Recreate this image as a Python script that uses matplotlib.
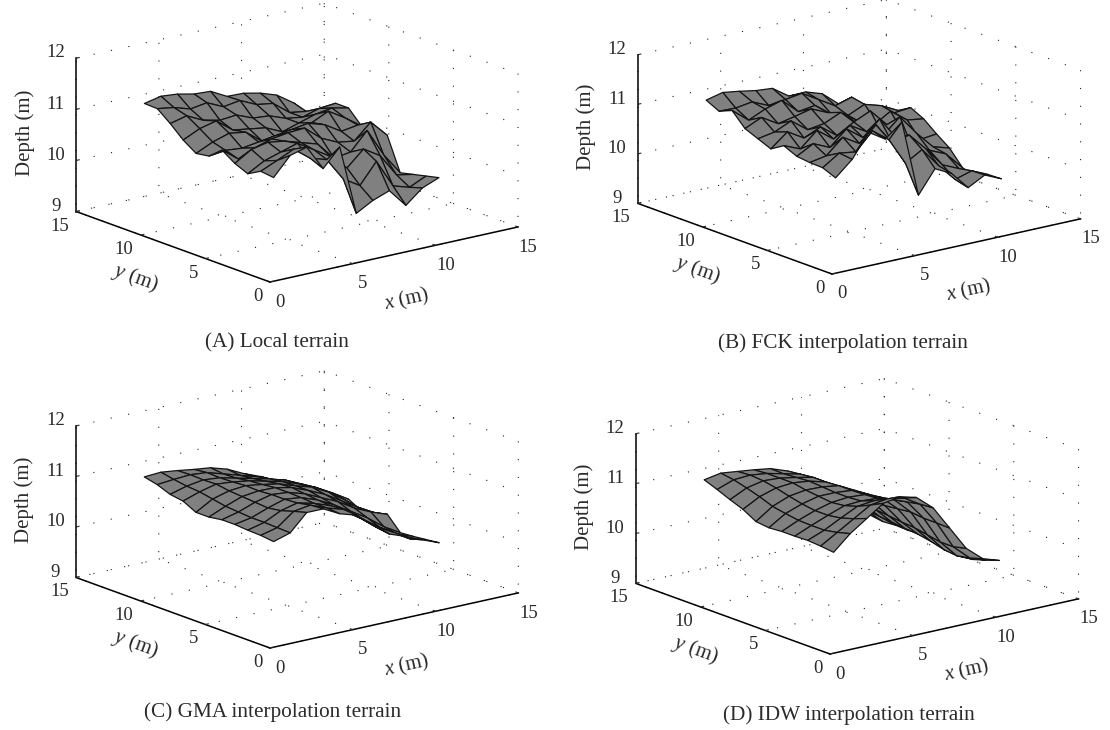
import matplotlib
matplotlib.use("Agg")
import matplotlib.pyplot as plt
import numpy as np
from mpl_toolkits.mplot3d import proj3d

plt.rcParams["font.family"] = ["Liberation Serif", "DejaVu Serif"]
plt.rcParams["mathtext.fontset"] = "custom"
plt.rcParams["mathtext.rm"] = "Liberation Serif"
plt.rcParams["mathtext.it"] = "Liberation Serif:italic"

W, H = 1110, 730
TEXT = "#2b2b2b"

grid_x = [1, 2, 3, 4, 5, 6, 7, 8, 9, 10, 11]
grid_y = [1, 2, 3, 4, 5, 6, 7, 8, 9, 10, 11]
ticks_xy = [0, 5, 10, 15]
ticks_z = [9, 10, 11, 12]

# rows run y = 1 .. 11, columns x = 1 .. 11
local_z = [
    [10.88, 11.24, 11.33, 10.84, 11.19, 9.82, 10.00, 10.12, 9.76, 10.03, 10.16],
    [10.91, 11.05, 11.20, 10.95, 10.85, 10.40, 10.20, 10.60, 10.05, 9.95, 10.10],
    [10.77, 10.95, 11.05, 11.15, 10.95, 10.75, 10.45, 10.75, 10.55, 10.10, 10.04],
    [10.88, 11.08, 11.15, 11.10, 11.00, 10.90, 10.55, 10.60, 10.95, 10.40, 9.98],
    [11.05, 10.80, 10.95, 11.05, 11.10, 11.12, 10.85, 10.70, 10.65, 10.95, 10.62],
    [10.84, 10.88, 10.85, 10.90, 10.95, 11.00, 11.05, 10.95, 10.75, 10.80, 10.58],
    [10.80, 10.95, 11.05, 11.00, 10.75, 10.70, 10.85, 10.90, 11.05, 10.85, 10.62],
    [10.97, 11.12, 11.20, 10.95, 10.90, 10.85, 10.70, 10.80, 10.90, 10.95, 10.88],
    [11.20, 11.28, 11.12, 11.05, 11.08, 10.95, 10.92, 10.80, 10.75, 10.85, 10.88],
    [11.40, 11.35, 11.25, 11.30, 11.15, 11.20, 11.05, 11.00, 10.75, 10.70, 10.60],
    [11.41, 11.48, 11.45, 11.38, 11.36, 11.19, 11.18, 11.11, 11.00, 10.78, 10.45],
]
fck_z = [
    [10.77, 11.07, 11.54, 11.33, 11.60, 10.05, 10.51, 10.34, 9.98, 10.16, 10.01],
    [10.88, 11.10, 11.05, 11.40, 11.15, 10.60, 10.80, 10.40, 10.05, 10.15, 10.00],
    [10.89, 10.95, 11.25, 11.05, 11.35, 10.90, 11.00, 10.65, 10.25, 10.10, 9.88],
    [10.92, 11.10, 10.95, 11.25, 11.00, 11.30, 10.85, 10.55, 10.45, 10.30, 9.95],
    [11.04, 10.90, 11.20, 10.95, 11.15, 10.95, 10.80, 11.10, 10.70, 10.35, 10.25],
    [10.88, 11.15, 10.95, 11.10, 10.85, 11.05, 11.20, 10.85, 10.60, 10.40, 10.44],
    [10.99, 11.05, 11.20, 10.95, 11.00, 11.15, 10.85, 10.75, 10.95, 10.70, 10.65],
    [11.10, 11.25, 11.05, 11.12, 11.20, 11.05, 10.95, 10.70, 10.60, 10.75, 10.78],
    [11.37, 11.10, 11.25, 11.35, 11.05, 11.10, 10.85, 10.75, 10.90, 10.80, 10.63],
    [11.26, 11.25, 11.30, 11.15, 11.20, 11.25, 11.05, 10.85, 10.95, 10.60, 10.54],
    [11.39, 11.47, 11.42, 11.36, 11.33, 11.10, 11.11, 11.00, 10.72, 10.62, 10.44],
]
gma_z = [
    [10.94, 11.04, 11.37, 11.37, 11.20, 11.10, 10.83, 10.58, 10.46, 10.32, 10.19],
    [10.97, 11.05, 11.30, 11.35, 11.22, 11.12, 10.88, 10.62, 10.45, 10.25, 10.16],
    [10.98, 11.06, 11.22, 11.30, 11.22, 11.10, 10.90, 10.68, 10.45, 10.25, 10.13],
    [11.00, 11.06, 11.18, 11.28, 11.24, 11.12, 10.95, 10.75, 10.55, 10.30, 10.11],
    [11.00, 11.08, 11.20, 11.28, 11.25, 11.15, 11.00, 10.85, 10.65, 10.50, 10.38],
    [10.96, 11.10, 11.22, 11.26, 11.25, 11.18, 11.05, 10.90, 10.70, 10.50, 10.32],
    [10.96, 11.15, 11.24, 11.27, 11.22, 11.16, 11.05, 10.95, 10.78, 10.55, 10.26],
    [11.09, 11.20, 11.28, 11.25, 11.20, 11.12, 11.04, 10.92, 10.78, 10.60, 10.40],
    [11.13, 11.22, 11.27, 11.24, 11.16, 11.08, 11.00, 10.90, 10.75, 10.55, 10.31],
    [11.23, 11.26, 11.28, 11.25, 11.15, 11.05, 10.95, 10.82, 10.68, 10.50, 10.30],
    [11.29, 11.31, 11.27, 11.22, 11.18, 11.08, 10.92, 10.79, 10.62, 10.46, 10.23],
]
idw_z = [
    [10.87, 11.17, 11.40, 11.63, 11.69, 11.60, 11.32, 10.84, 10.36, 10.08, 9.97],
    [10.90, 11.10, 11.30, 11.50, 11.55, 11.50, 11.30, 10.85, 10.30, 10.00, 9.88],
    [10.92, 11.05, 11.22, 11.38, 11.42, 11.38, 11.25, 10.85, 10.30, 9.95, 9.80],
    [10.91, 11.05, 11.18, 11.30, 11.32, 11.30, 11.20, 10.88, 10.35, 9.98, 9.78],
    [10.91, 11.06, 11.18, 11.27, 11.30, 11.28, 11.15, 10.85, 10.40, 10.05, 9.82],
    [10.89, 11.10, 11.22, 11.30, 11.30, 11.27, 11.12, 10.82, 10.42, 10.10, 9.89],
    [10.92, 11.15, 11.28, 11.33, 11.32, 11.27, 11.10, 10.80, 10.45, 10.12, 9.94],
    [11.07, 11.25, 11.35, 11.38, 11.34, 11.25, 11.05, 10.78, 10.48, 10.15, 9.91],
    [11.17, 11.33, 11.40, 11.38, 11.32, 11.25, 11.05, 10.80, 10.50, 10.18, 9.92],
    [11.28, 11.40, 11.42, 11.38, 11.30, 11.22, 11.05, 10.82, 10.55, 10.20, 9.90],
    [11.38, 11.44, 11.40, 11.36, 11.31, 11.19, 11.00, 10.80, 10.55, 10.25, 9.94],
]

captions = [
    "(A) Local terrain",
    "(B) FCK interpolation terrain",
    "(C) GMA interpolation terrain",
    "(D) IDW interpolation terrain",
]
caption_xy = [(277, 343), (843, 343), (273, 712), (849, 715)]
# pixel of the (0,0,9) corner, pixel of (15,0,9), height of the z axis in pixels
origins = [(270, 282), (832, 274), (270, 648), (830, 654)]
rights = [(518, 227), (1081, 221), (519, 596), (1079, 601)]
z_heights = [153, 148, 151, 149]

fig = plt.figure(figsize=(W / 100, H / 100), dpi=100, facecolor="white")


def corner_px(ax, x, y, z):
    px, py, _ = proj3d.proj_transform(x, y, z, ax.get_proj())
    return ax.transData.transform((px, py))


def place(ax, origin, right):
    # scale and move the square axes until the box corners land on the reference
    side = 600.0
    ax.set_position([0, 0, side / W, side / H])
    ax.apply_aspect()
    p0 = corner_px(ax, 0, 0, 9)
    p1 = corner_px(ax, 15, 0, 9)
    target = np.hypot(right[0] - origin[0], right[1] - origin[1])
    side *= target / np.hypot(*(p1 - p0))
    ax.set_position([0, 0, side / W, side / H])
    ax.apply_aspect()
    p0 = corner_px(ax, 0, 0, 9)
    left = origin[0] - p0[0]
    bottom = (H - origin[1]) - p0[1]
    ax.set_position([left / W, bottom / H, side / W, side / H])


def terrain(z, origin, right, z_h, caption, cap_xy):
    ax = fig.add_axes([0, 0, 1, 1], projection="3d", proj_type="ortho")
    ax.patch.set_alpha(0)
    ax.view_init(elev=16.5, azim=-128)
    ax.set_xlim(0, 15, view_margin=0)
    ax.set_ylim(0, 15, view_margin=0)
    ax.set_zlim(9, 12, view_margin=0)
    ax.set_box_aspect((1, 1, z_h / 301.0))

    X, Y = np.meshgrid(grid_x, grid_y)
    ax.plot_surface(X, Y, np.array(z), rstride=1, cstride=1, color="#808080",
                    edgecolor="#141414", linewidth=0.9, shade=False, antialiased=True)

    ax.set_xticks(ticks_xy)
    ax.set_yticks(ticks_xy)
    ax.set_zticks(ticks_z)
    ax.tick_params(colors=TEXT, labelsize=13.5)
    ax.tick_params(axis="x", pad=1)
    ax.tick_params(axis="y", pad=-3)
    ax.tick_params(axis="z", pad=0)
    ax.set_xlabel(r"$\mathit{x}$ (m)", fontsize=15, color=TEXT, labelpad=10)
    ax.set_ylabel(r"$\mathit{y}$ (m)", fontsize=15, color=TEXT, labelpad=5)
    ax.set_zlabel("Depth (m)", fontsize=15, color=TEXT, labelpad=-1, rotation=90)
    ax.xaxis._axinfo["label"]["ha"] = "right"
    for lab in ax.yaxis.get_ticklabels():
        lab.set_ha("right")
    for lab in ax.zaxis.get_ticklabels():
        lab.set_va("baseline")

    for axis in (ax.xaxis, ax.yaxis, ax.zaxis):
        axis.pane.set_visible(False)
        axis.line.set_color("black")
        axis.line.set_linewidth(1.1)
        axis._axinfo["grid"].update(color="#222222", linewidth=0.8, linestyle=(0, (1, 15)))
        axis._axinfo["tick"].update(inward_factor=0.0, outward_factor=0.15, linewidth={True: 0.8, False: 0.5})

    place(ax, origin, right)
    fig.text(cap_xy[0] / W, 1 - cap_xy[1] / H, caption, ha="center", va="center",
             fontsize=15.3, color=TEXT)
    return ax


surfaces = [local_z, fck_z, gma_z, idw_z]
for i in range(4):
    terrain(surfaces[i], origins[i], rights[i], z_heights[i], captions[i], caption_xy[i])

fig.savefig("out.png", dpi=100)
